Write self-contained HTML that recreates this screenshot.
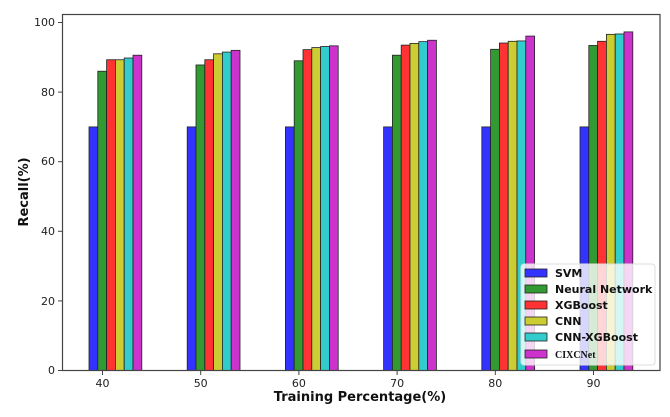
<!DOCTYPE html>
<html><head><meta charset="utf-8"><style>body{margin:0;background:#fff}svg{display:block}</style></head><body>
<svg width="670" height="417" xmlns="http://www.w3.org/2000/svg" font-family="'DejaVu Sans','Liberation Sans',sans-serif">
<rect width="670" height="417" fill="#fff"/>
<g stroke="#222" stroke-width="0.8">
<rect x="89" y="126.9" width="8.8" height="243.6" fill="#3333ff"/>
<rect x="97.8" y="71.22" width="8.8" height="299.28" fill="#339933"/>
<rect x="106.6" y="59.74" width="8.8" height="310.76" fill="#ff3333"/>
<rect x="115.4" y="59.74" width="8.8" height="310.76" fill="#cccc33"/>
<rect x="124.2" y="58" width="8.8" height="312.5" fill="#33cccc"/>
<rect x="133" y="55.21" width="8.8" height="315.29" fill="#cc33cc"/>

<rect x="187.2" y="126.9" width="8.8" height="243.6" fill="#3333ff"/>
<rect x="196" y="64.96" width="8.8" height="305.54" fill="#339933"/>
<rect x="204.8" y="59.74" width="8.8" height="310.76" fill="#ff3333"/>
<rect x="213.6" y="53.82" width="8.8" height="316.68" fill="#cccc33"/>
<rect x="222.4" y="52.08" width="8.8" height="318.42" fill="#33cccc"/>
<rect x="231.2" y="50.34" width="8.8" height="320.16" fill="#cc33cc"/>

<rect x="285.4" y="126.9" width="8.8" height="243.6" fill="#3333ff"/>
<rect x="294.2" y="60.78" width="8.8" height="309.72" fill="#339933"/>
<rect x="303" y="49.64" width="8.8" height="320.86" fill="#ff3333"/>
<rect x="311.8" y="47.56" width="8.8" height="322.94" fill="#cccc33"/>
<rect x="320.6" y="46.51" width="8.8" height="323.99" fill="#33cccc"/>
<rect x="329.4" y="45.82" width="8.8" height="324.68" fill="#cc33cc"/>

<rect x="383.6" y="126.9" width="8.8" height="243.6" fill="#3333ff"/>
<rect x="392.4" y="55.21" width="8.8" height="315.29" fill="#339933"/>
<rect x="401.2" y="45.12" width="8.8" height="325.38" fill="#ff3333"/>
<rect x="410" y="43.38" width="8.8" height="327.12" fill="#cccc33"/>
<rect x="418.8" y="41.64" width="8.8" height="328.86" fill="#33cccc"/>
<rect x="427.6" y="40.25" width="8.8" height="330.25" fill="#cc33cc"/>

<rect x="481.8" y="126.9" width="8.8" height="243.6" fill="#3333ff"/>
<rect x="490.6" y="49.3" width="8.8" height="321.2" fill="#339933"/>
<rect x="499.4" y="43.03" width="8.8" height="327.47" fill="#ff3333"/>
<rect x="508.2" y="41.29" width="8.8" height="329.21" fill="#cccc33"/>
<rect x="517" y="40.94" width="8.8" height="329.56" fill="#33cccc"/>
<rect x="525.8" y="36.07" width="8.8" height="334.43" fill="#cc33cc"/>

<rect x="580" y="126.9" width="8.8" height="243.6" fill="#3333ff"/>
<rect x="588.8" y="45.47" width="8.8" height="325.03" fill="#339933"/>
<rect x="597.6" y="41.29" width="8.8" height="329.21" fill="#ff3333"/>
<rect x="606.4" y="34.33" width="8.8" height="336.17" fill="#cccc33"/>
<rect x="615.2" y="33.98" width="8.8" height="336.52" fill="#33cccc"/>
<rect x="624" y="31.9" width="8.8" height="338.6" fill="#cc33cc"/>
</g>
<rect x="62.5" y="14.5" width="597.5" height="356" fill="none" stroke="#444" stroke-width="1.2"/>
<g font-size="11" fill="#222" text-anchor="end">
<text x="55" y="374">0</text><text x="55" y="305">20</text><text x="55" y="235">40</text><text x="55" y="165">60</text><text x="55" y="96">80</text><text x="55" y="26">100</text>
</g>
<g stroke="#444"><line x1="58" x2="62" y1="370.5" y2="370.5"/><line x1="58" x2="62" y1="300.9" y2="300.9"/><line x1="58" x2="62" y1="231.3" y2="231.3"/><line x1="58" x2="62" y1="161.7" y2="161.7"/><line x1="58" x2="62" y1="92.1" y2="92.1"/><line x1="58" x2="62" y1="22.5" y2="22.5"/>
<line x1="102.5" x2="102.5" y1="371" y2="375"/><line x1="200.7" x2="200.7" y1="371" y2="375"/><line x1="298.9" x2="298.9" y1="371" y2="375"/><line x1="397.1" x2="397.1" y1="371" y2="375"/><line x1="495.3" x2="495.3" y1="371" y2="375"/><line x1="593.5" x2="593.5" y1="371" y2="375"/></g>
<g font-size="11" fill="#222" text-anchor="middle">
<text x="102.5" y="387">40</text><text x="200.7" y="387">50</text><text x="298.9" y="387">60</text><text x="397.1" y="387">70</text><text x="495.3" y="387">80</text><text x="593.5" y="387">90</text>
</g>
<text x="360" y="401" font-size="13" font-weight="bold" text-anchor="middle" fill="#111">Training Percentage(%)</text>
<text transform="translate(28,192) rotate(-90)" font-size="13" font-weight="bold" text-anchor="middle" fill="#111">Recall(%)</text>
<rect x="521" y="264" width="134" height="101" rx="3" fill="#fff" fill-opacity="0.8" stroke="#ddd"/>
<g stroke="#222" stroke-width="0.8">
<rect x="525" y="269" width="22" height="8" fill="#3333ff"/><rect x="525" y="285" width="22" height="8" fill="#339933"/><rect x="525" y="301" width="22" height="8" fill="#ff3333"/><rect x="525" y="317" width="22" height="8" fill="#cccc33"/><rect x="525" y="333" width="22" height="8" fill="#33cccc"/><rect x="525" y="350" width="22" height="8" fill="#cc33cc"/>
</g>
<g font-size="11" font-weight="bold" fill="#111">
<text x="555" y="277">SVM</text><text x="555" y="293">Neural Network</text><text x="555" y="309">XGBoost</text><text x="555" y="325">CNN</text><text x="555" y="341">CNN-XGBoost</text>
<text x="555" y="358" font-family="'Liberation Serif',serif" font-size="10">CIXCNet</text>
</g>
</svg>
</body></html>
